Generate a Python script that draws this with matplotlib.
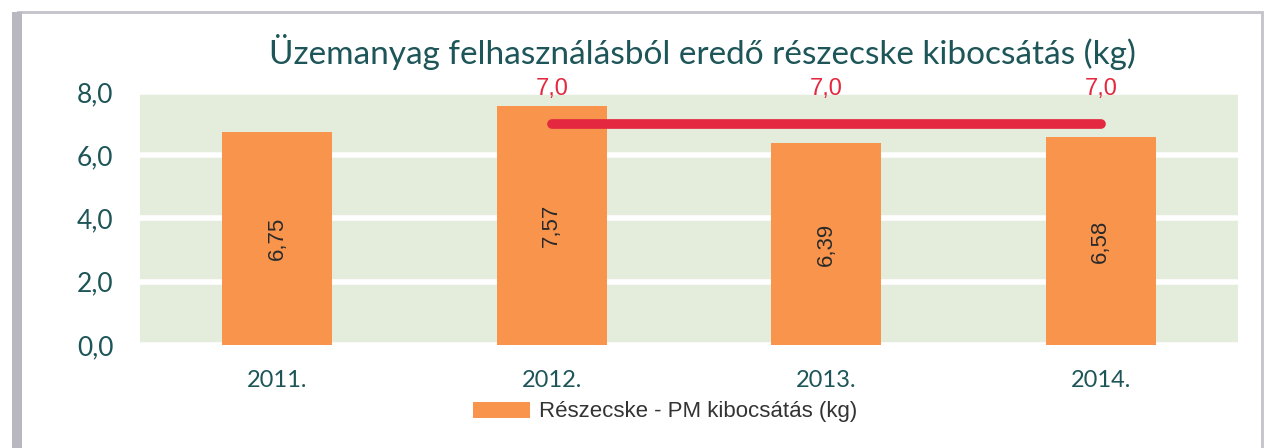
import numpy as np
import matplotlib.pyplot as plt
from matplotlib.patches import Rectangle

# Adatok
evek = ['2011.', '2012.', '2013.', '2014.']
kibocsatas = [6.75, 7.57, 6.39, 6.58]
cel_evek = ['2012.', '2013.', '2014.']
cel_ertek = [7.0, 7.0, 7.0]
y_ticks = [0, 2, 4, 6, 8]

title_color = '#1d5558'
bar_color = '#f8944c'
bg_color = '#e4ecdb'
red = '#e3283f'

fig = plt.figure(figsize=(12.68, 4.48), dpi=100)
ax = fig.add_axes([140/1268, 1 - 345/448, (1238-140)/1268, (345-92)/448])

x = np.arange(len(evek))
ax.set_facecolor(bg_color)
bars = ax.bar(x, kibocsatas, width=0.4, color=bar_color, zorder=3,
              label='Részecske - PM kibocsátás (kg)')
for i, v in enumerate(kibocsatas):
    ax.text(x[i], v / 2, f'{v:.2f}'.replace('.', ','), rotation=90,
            ha='center', va='center', fontsize=16, color='#2a2a2a',
            family='Liberation Sans', zorder=4)

# vízszintes célérték vonal
xl = [evek.index(e) for e in cel_evek]
ax.plot(xl, cel_ertek, color=red, lw=7, solid_capstyle='round', zorder=5)
for xi, v in zip(xl, cel_ertek):
    ax.text(xi, v + 1.1, f'{v:.1f}'.replace('.', ','), ha='center', va='center',
            fontsize=17, color=red, family='Liberation Sans')

ax.set_xlim(-0.5, len(evek) - 0.5)
ax.set_ylim(0, 8)
ax.set_yticks(y_ticks)
ax.set_yticklabels([f'{t:.1f}'.replace('.', ',') for t in y_ticks],
                   fontsize=19, color=title_color, family='Lato')
ax.set_xticks(x)
ax.set_xticklabels(evek, fontsize=17, color=title_color, family='Lato')
ax.tick_params(length=0, pad=19, axis='y')
ax.tick_params(length=0, pad=18, axis='x')
ax.grid(axis='y', color='white', lw=4, zorder=1)
for s in ax.spines.values():
    s.set_visible(False)

fig.text(702/1268, 1 - 52/448, 'Üzemanyag felhasználásból eredő részecske kibocsátás (kg)',
         ha='center', va='center', fontsize=24, color=title_color, family='Lato')

fig.legend(handles=[bars], loc='center', bbox_to_anchor=(665/1268, 1 - 412/448),
           frameon=False, handlelength=2.6, handleheight=0.7, handletextpad=0.4,
           prop={'family': 'Liberation Sans', 'size': 16}, labelcolor='#333333')

# keret (szkennelt lap széle)
fig.patches.append(Rectangle((18/1268, -0.02), (1262-18)/1268, 1 - 12/448 + 0.02,
                             transform=fig.transFigure, fill=False,
                             edgecolor='#c4c2ca', lw=2))
fig.patches.append(Rectangle((12/1268, -0.02), 10/1268, 1 - 12/448 + 0.02,
                             transform=fig.transFigure, color='#b9b7c0', lw=0))

fig.savefig('out.png', dpi=100)
